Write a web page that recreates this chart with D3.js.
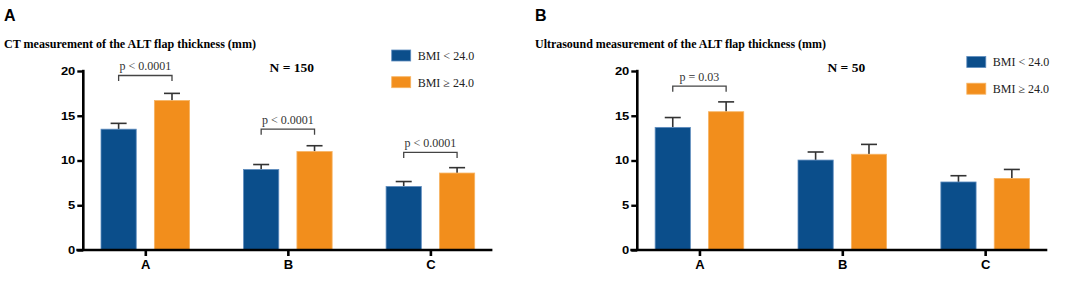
<!DOCTYPE html>
<html>
<head>
<meta charset="utf-8">
<script src="https://cdn.jsdelivr.net/npm/d3@7"></script>
<style>
  body { margin: 0; background: #fff; }
  svg { display: block; }
</style>
</head>
<body>
<script>
// data
const categories = ["A", "B", "C"];
const groups = ["BMI < 24.0", "BMI \u2265 24.0"];
const yTicks = [0, 5, 10, 15, 20];

const ctLow = [13.5, 9.0, 7.1];
const ctLowErr = [0.65, 0.55, 0.55];
const ctHigh = [16.7, 11.0, 8.6];
const ctHighErr = [0.8, 0.65, 0.6];
const ctP = [
  {cat: "A", text: "p < 0.0001", at: 19.5},
  {cat: "B", text: "p < 0.0001", at: 13.5},
  {cat: "C", text: "p < 0.0001", at: 10.9}
];

const usLow = [13.7, 10.05, 7.6];
const usLowErr = [1.1, 0.9, 0.7];
const usHigh = [15.45, 10.7, 8.0];
const usHighErr = [1.1, 1.1, 1.0];
const usP = [
  {cat: "A", text: "p = 0.03", at: 18.3}
];

const width = 1084;
const height = 286;
const colors = ["#0b4e8b", "#f28e1c"];
const edges = ["#5f8dbf", "#f7b463"];

const svg = d3.select("body").append("svg")
  .attr("width", width)
  .attr("height", height);

const y = d3.scaleLinear().domain([0, 20]).range([250, 71]);

function drawPanel(p) {
  const g = svg.append("g");

  const x = d3.scalePoint()
    .domain(categories)
    .range([p.left, p.right])
    .padding(0.435);

  const sub = d3.scaleBand()
    .domain(groups)
    .range([-44.3, 44.3])
    .paddingInner(0.34);

  // panel letter + title
  g.append("text")
    .attr("x", p.letterX).attr("y", 20.5)
    .attr("font-family", "Liberation Sans, Arial, sans-serif")
    .attr("font-weight", "bold").attr("font-size", 16)
    .text(p.letter);

  g.append("text")
    .attr("x", p.letterX).attr("y", 48)
    .attr("font-family", "Liberation Serif, Times New Roman, serif")
    .attr("font-weight", "bold").attr("font-size", 12.8)
    .attr("textLength", p.titleWidth)
    .attr("lengthAdjust", "spacingAndGlyphs")
    .text(p.title);

  g.append("text")
    .attr("x", x("B") + 4).attr("y", 71.7)
    .attr("text-anchor", "middle")
    .attr("font-family", "Liberation Serif, Times New Roman, serif")
    .attr("font-weight", "bold").attr("font-size", 13.5)
    .text(p.n);

  // bars
  const rows = [];
  categories.forEach((c, i) => {
    rows.push({cat: c, grp: 0, v: p.low[i], e: p.lowErr[i]});
    rows.push({cat: c, grp: 1, v: p.high[i], e: p.highErr[i]});
  });

  const cx = d => x(d.cat) + sub(groups[d.grp]) + sub.bandwidth() / 2;

  g.selectAll(".err")
    .data(rows)
    .join("g")
    .each(function(d) {
      const e = d3.select(this);
      e.append("line")
        .attr("x1", cx(d)).attr("x2", cx(d))
        .attr("y1", y(d.v)).attr("y2", y(d.v + d.e))
        .attr("stroke", "#333").attr("stroke-width", 1.6);
      e.append("line")
        .attr("x1", cx(d) - 8).attr("x2", cx(d) + 8)
        .attr("y1", y(d.v + d.e)).attr("y2", y(d.v + d.e))
        .attr("stroke", "#333").attr("stroke-width", 1.6);
    });

  g.selectAll(".bar")
    .data(rows)
    .join("rect")
    .attr("x", d => x(d.cat) + sub(groups[d.grp]))
    .attr("y", d => y(d.v))
    .attr("width", sub.bandwidth())
    .attr("height", d => y(0) - y(d.v))
    .attr("fill", d => colors[d.grp])
    .attr("stroke", d => edges[d.grp])
    .attr("stroke-width", 0.8);

  // significance brackets
  p.pvals.forEach(b => {
    const xa = x(b.cat) + sub(groups[0]) + sub.bandwidth() / 2;
    const xb = x(b.cat) + sub(groups[1]) + sub.bandwidth() / 2;
    const yy = y(b.at);
    g.append("path")
      .attr("d", `M${xa},${yy + 5.5}V${yy}H${xb}V${yy + 5.5}`)
      .attr("fill", "none")
      .attr("stroke", "#444").attr("stroke-width", 1.3);
    g.append("text")
      .attr("x", (xa + xb) / 2).attr("y", yy - 5)
      .attr("text-anchor", "middle")
      .attr("font-family", "Liberation Serif, Times New Roman, serif")
      .attr("font-size", 12).attr("fill", "#333")
      .text(b.text);
  });

  // axes
  const yAxis = g.append("g")
    .attr("transform", `translate(${p.left},0)`)
    .call(d3.axisLeft(y).tickValues(yTicks).tickSize(6).tickPadding(2).tickSizeOuter(0));
  yAxis.select(".domain").attr("stroke-width", 2.6).attr("d", `M0,${y(0)}V${y(20) - 1.2}`);
  yAxis.selectAll(".tick line").attr("stroke-width", 2.4);
  // the figure's tick numbers are squat and wide
  yAxis.selectAll(".tick text")
    .attr("font-family", "Liberation Sans, Arial, sans-serif")
    .attr("font-weight", "bold").attr("font-size", 10.5).attr("fill", "#000")
    .attr("textLength", d => String(d).length * 7.2)
    .attr("lengthAdjust", "spacingAndGlyphs");

  const xAxis = g.append("g")
    .attr("transform", `translate(0,${y(0)})`)
    .call(d3.axisBottom(x).tickSize(6).tickPadding(4).tickSizeOuter(0));
  xAxis.select(".domain").attr("stroke-width", 2.6).attr("d", `M${p.left - 7},0H${p.right}`);
  xAxis.selectAll(".tick line").attr("stroke-width", 2.6);
  xAxis.selectAll(".tick text")
    .attr("font-family", "Liberation Sans, Arial, sans-serif")
    .attr("font-weight", "bold").attr("font-size", 13).attr("fill", "#000");

  // legend
  const lg = g.append("g").attr("transform", `translate(${p.legendX},${p.legendY})`);
  groups.forEach((name, i) => {
    lg.append("rect")
      .attr("x", 0).attr("y", i * 26.7)
      .attr("width", 19).attr("height", 11)
      .attr("fill", colors[i])
      .attr("stroke", edges[i]).attr("stroke-width", 0.8);
    lg.append("text")
      .attr("x", 26).attr("y", i * 26.7 + 9.8)
      .attr("font-family", "Liberation Serif, Times New Roman, serif")
      .attr("font-size", 12).attr("fill", "#222")
      .text(name);
  });
}

drawPanel({
  letter: "A", letterX: 4,
  title: "CT measurement of the ALT flap thickness (mm)", titleWidth: 252,
  n: "N = 150",
  left: 83.3, right: 492.4,
  low: ctLow, lowErr: ctLowErr, high: ctHigh, highErr: ctHighErr,
  pvals: ctP,
  legendX: 391.7, legendY: 50
});

drawPanel({
  letter: "B", letterX: 535,
  title: "Ultrasound measurement of the ALT flap thickness (mm)", titleWidth: 291,
  n: "N = 50",
  left: 637.3, right: 1047.3,
  low: usLow, lowErr: usLowErr, high: usHigh, highErr: usHighErr,
  pvals: usP,
  legendX: 966.8, legendY: 56.5
});
</script>
</body>
</html>
